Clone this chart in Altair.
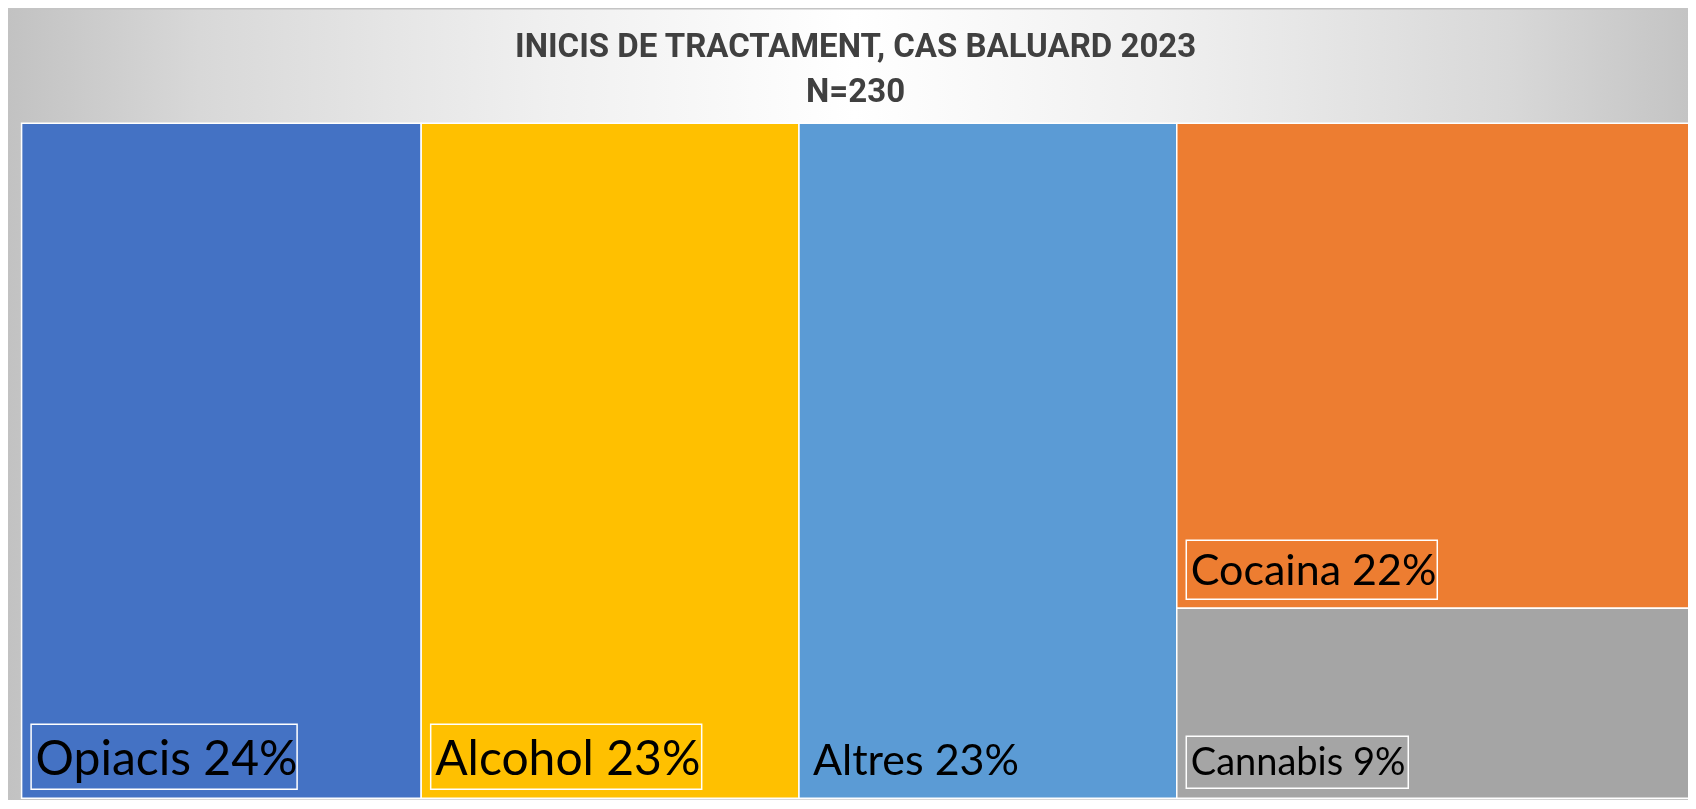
import altair as alt
import pandas as pd

# ---- data ----
categories = ["Opiacis", "Alcohol", "Altres", "Cocaina", "Cannabis"]
counts = [55, 52, 52, 51, 20]
colors = ["#4472C4", "#FFC000", "#5B9BD5", "#ED7D31", "#A5A5A5"]
columns = [["Opiacis"], ["Alcohol"], ["Altres"], ["Cocaina", "Cannabis"]]
title_lines = ["INICIS DE TRACTAMENT, CAS BALUARD 2023", "N=230"]

# ---- slice-and-dice treemap layout built from the data ----
total = sum(counts)
cnt = dict(zip(categories, counts))
rows = []
xpos = 0
for col in columns:
    ctot = sum(cnt[c] for c in col)
    ytop = 1.0
    for c in col:
        frac = cnt[c] / ctot
        y0 = max(0.0, ytop - frac)
        rows.append(dict(cat=c, n=cnt[c], x0=xpos, x1=xpos + ctot, y0=y0, y1=ytop,
                         label=f"{c} {round(100 * cnt[c] / total)}%"))
        ytop -= frac
    xpos += ctot
df = pd.DataFrame(rows)

# ---- style / layout ----
CANVAS_W, CANVAS_H = 1680, 792
W, H = 1671, 675
PAD_L, PAD_T = 13.6, 115.3
PAD = {"left": PAD_L, "top": PAD_T,
       "right": CANVAS_W - PAD_L - W, "bottom": CANVAS_H - PAD_T - H}
FONT = "Lato"
FONT_SIZE = {"Opiacis": 48, "Alcohol": 48, "Altres": 43, "Cocaina": 43, "Cannabis": 38}
# label box: width, height above baseline, depth below baseline
BOX = {"Opiacis": (266, 51, 14), "Alcohol": (271, 51, 14),
       "Cocaina": (251, 45, 14), "Cannabis": (222, 39, 13)}
BASE_UP = 23   # baseline above bottom of rectangle
TEXT_DX = 14
BOX_DX = 9.5

xs = alt.Scale(domain=[0, total], nice=False, zero=True)
ys = alt.Scale(domain=[0, 1], nice=False, zero=True)
cs = alt.Scale(domain=categories, range=colors)

one = alt.Data(values=[{}])

vert_grad = {
    "gradient": "linear", "x1": 0, "y1": 0, "x2": 0, "y2": 1,
    "stops": [
        {"offset": 0.0, "color": "#ffffff"},
        {"offset": 0.15, "color": "#ffffff"},
        {"offset": 1.0, "color": "#d9d9d9"},
    ],
}
horiz_grad = {
    "gradient": "linear", "x1": 0, "y1": 0, "x2": 1, "y2": 0,
    "stops": [
        {"offset": 0.0, "color": "#c2c2c2"},
        {"offset": 0.114, "color": "#d8d8d8"},
        {"offset": 0.233, "color": "#e6e6e6"},
        {"offset": 0.323, "color": "#f0f0f0"},
        {"offset": 0.504, "color": "#ffffff"},
        {"offset": 0.685, "color": "#f0f0f0"},
        {"offset": 0.775, "color": "#e6e6e6"},
        {"offset": 0.894, "color": "#d8d8d8"},
        {"offset": 1.0, "color": "#c4c4c4"},
    ],
}
bg_enc = dict(x=alt.value(-PAD_L), x2=alt.value(CANVAS_W - PAD_L),
              y=alt.value(-PAD_T), y2=alt.value(CANVAS_H - PAD_T))
bg_v = alt.Chart(one).mark_rect(fill=vert_grad).encode(**bg_enc)
bg_h = alt.Chart(one).mark_rect(fill=horiz_grad, blend="darken").encode(**bg_enc)
top_line = alt.Chart(one).mark_rule(color="#c4c4c4", strokeWidth=1.5).encode(
    x=alt.value(-PAD_L), x2=alt.value(CANVAS_W - PAD_L), y=alt.value(-PAD_T + 0.75))

titles = []
for i, line in enumerate(title_lines):
    titles.append(
        alt.Chart(one).mark_text(text=line, font="Roboto", fontWeight="bold", fontSize=33,
                                 color="#404040", align="center", baseline="alphabetic").encode(
            x=alt.value(834), y=alt.value(-66.6 + 45 * i))
    )

base = alt.Chart(df)
rects = base.mark_rect(stroke="#ffffff", strokeWidth=1.5).encode(
    x=alt.X("x0:Q", scale=xs, axis=None),
    x2="x1:Q",
    y=alt.Y("y0:Q", scale=ys, axis=None),
    y2="y1:Q",
    color=alt.Color("cat:N", scale=cs, legend=None),
)

labels = []
for c in categories:
    sub = base.transform_filter(alt.datum.cat == c)
    if c in BOX:
        bw, up, down = BOX[c]
        labels.append(
            sub.mark_rect(fill="#000000", fillOpacity=0, stroke="#ffffff", strokeWidth=1.5,
                          xOffset=BOX_DX, x2Offset=BOX_DX + bw,
                          yOffset=-BASE_UP + down, y2Offset=-BASE_UP - up).encode(
                x="x0:Q", x2="x0:Q", y="y0:Q", y2="y0:Q")
        )
    labels.append(
        sub.mark_text(font=FONT, fontSize=FONT_SIZE[c], color="#000000", align="left",
                      baseline="alphabetic", dx=TEXT_DX, dy=-BASE_UP).encode(
            x="x0:Q", y="y0:Q", text="label:N")
    )

chart = alt.layer(bg_v, bg_h, top_line, *titles, rects, *labels).properties(
    width=W, height=H, padding=PAD, autosize="none", background="#ffffff"
).configure_view(strokeWidth=0)

chart.save("out.html", embed_options={"renderer": "svg", "actions": False})
